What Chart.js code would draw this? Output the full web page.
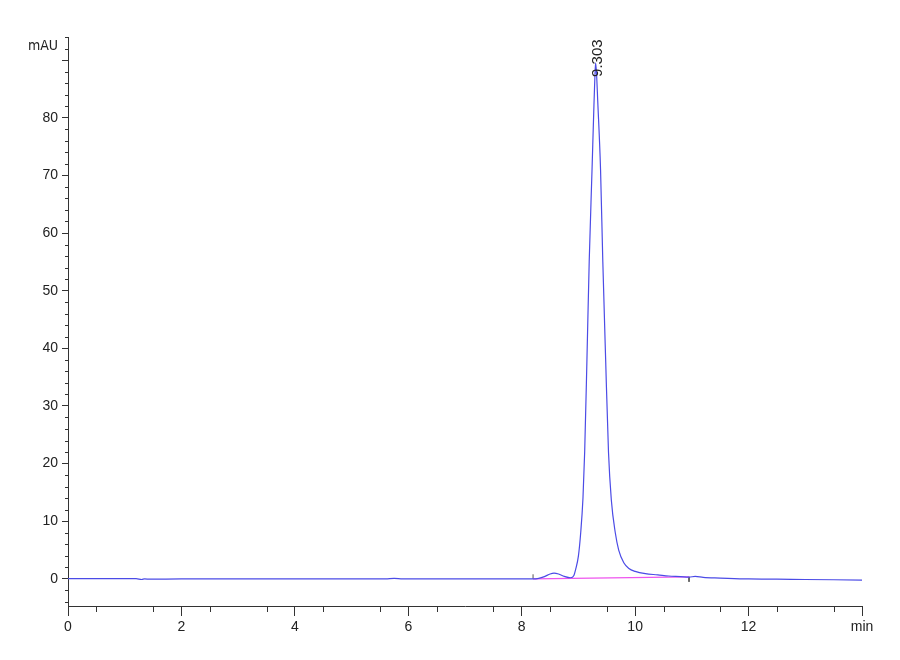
<!DOCTYPE html>
<html>
<head>
<meta charset="utf-8">
<script src="https://cdn.jsdelivr.net/npm/chart.js@4.4.0/dist/chart.umd.min.js"></script>
<style>
  html, body { margin: 0; padding: 0; background: #fff; }
  #wrap { width: 900px; height: 660px; }
</style>
</head>
<body>
<div id="wrap"><canvas id="myChart" width="900" height="660"></canvas></div>
<script>
// retention time (min) and absorbance (mAU)
const times = [0, 0.6, 1.2, 1.3, 1.35, 1.45, 2, 3, 4, 5, 5.6, 5.75, 5.9, 6.5, 7, 7.5, 8.0, 8.2,
  8.3, 8.4, 8.5, 8.57, 8.65, 8.75, 8.86, 8.92, 8.95, 9.0, 9.04, 9.08, 9.11, 9.15, 9.19, 9.24,
  9.27, 9.29, 9.303, 9.32, 9.34, 9.39, 9.43, 9.48, 9.53, 9.58, 9.65, 9.71, 9.8, 9.89, 10.0,
  10.18, 10.4, 10.59, 10.8, 10.95, 11.06, 11.2, 11.5, 12, 12.5, 13, 13.5, 14];
const mau = [0.05, 0.05, 0.05, -0.1, 0.0, -0.05, 0, 0, 0, 0, 0, 0.1, 0, 0, 0, 0, 0, 0,
  0.1, 0.4, 0.85, 1.0, 0.85, 0.45, 0.2, 0.6, 1.6, 4, 8, 14, 22, 38, 55, 71,
  81, 87, 89.5, 87.5, 83, 71, 55, 38, 22, 13.7, 8, 5, 2.8, 1.8, 1.3,
  0.9, 0.7, 0.5, 0.4, 0.3, 0.45, 0.25, 0.15, 0, -0.05, -0.1, -0.15, -0.2];

// integration baseline drawn under the main peak
const baseTimes = [8.2, 10.95];
const baseMau = [0, 0.35];

// x tick labels and y tick labels
const xTicks = [0, 2, 4, 6, 8, 10, 12, 14];
const yTicks = [0, 10, 20, 30, 40, 50, 60, 70, 80, 90];

const peakTime = 9.303;
const peakHeight = 89.5;

const ctx = document.getElementById('myChart');

// minor ticks, unit label and peak annotation
const decor = {
  id: 'decor',
  afterDraw(chart) {
    const c = chart.ctx;
    const xs = chart.scales.x;
    const ys = chart.scales.y;
    const area = chart.chartArea;
    c.save();
    c.strokeStyle = '#333';
    c.lineWidth = 1;
    c.beginPath();
    for (let v = 0.5; v < 14; v += 1) {
      const px = Math.round(xs.getPixelForValue(v)) + 0.5;
      c.moveTo(px, area.bottom);
      c.lineTo(px, area.bottom + 6);
    }
    for (let v = -4; v <= 94; v += 2) {
      if (v % 10 === 0) continue;
      const py = Math.round(ys.getPixelForValue(v)) + 0.5;
      c.moveTo(area.left, py);
      c.lineTo(area.left - 3, py);
    }
    c.stroke();

    c.fillStyle = '#222';
    c.font = '14px "DejaVu Sans Condensed", "Liberation Sans Narrow", sans-serif';
    c.textAlign = 'right';
    c.textBaseline = 'middle';
    c.fillText('mAU', area.left - 10, ys.getPixelForValue(92.3));

    // peak label
    c.translate(xs.getPixelForValue(peakTime) + 2, ys.getPixelForValue(peakHeight) + 14);
    c.rotate(-Math.PI / 2);
    c.textAlign = 'left';
    c.font = '15px "Liberation Sans", Arial, sans-serif';
    c.fillText(peakTime.toFixed(3), 0, 0);
    c.restore();
  }
};

new Chart(ctx, {
  type: 'line',
  data: {
    datasets: [{
      label: 'Signal',
      data: times.map((t, i) => ({ x: t, y: mau[i] })),
      borderColor: '#4b4be6',
      borderWidth: 1.2,
      pointRadius: 0,
      tension: 0.3,
      cubicInterpolationMode: 'monotone'
    }, {
      label: 'Baseline',
      data: baseTimes.map((t, i) => ({ x: t, y: baseMau[i] })),
      borderColor: '#ee55ee',
      borderWidth: 1.2,
      pointRadius: 0
    }, {
      label: 'Start',
      data: [{ x: 8.2, y: 0 }, { x: 8.2, y: 0.8 }],
      borderColor: '#555',
      borderWidth: 1,
      pointRadius: 0
    }, {
      label: 'End',
      data: [{ x: 10.95, y: 0.35 }, { x: 10.95, y: -0.5 }],
      borderColor: '#555',
      borderWidth: 1,
      pointRadius: 0
    }]
  },
  options: {
    responsive: false,
    animation: false,
    devicePixelRatio: 1,
    layout: { padding: { left: 0, right: 38, top: 37, bottom: 0 } },
    plugins: {
      legend: { display: false },
      tooltip: { enabled: false }
    },
    scales: {
      x: {
        type: 'linear',
        min: 0,
        max: 14,
        afterFit: (s) => { s.height = 54; },
        afterBuildTicks: (s) => { s.ticks = xTicks.map(v => ({ value: v })); },
        border: { display: true, color: '#333', width: 1 },
        grid: { drawOnChartArea: false, drawTicks: true, tickLength: 10, color: '#333' },
        ticks: {
          color: '#222',
          padding: 3,
          maxRotation: 0,
          font: { size: 14, family: "'Liberation Sans', Arial, sans-serif" },
          callback: (v) => v === 14 ? 'min' : String(v)
        }
      },
      y: {
        type: 'linear',
        min: -4.7,
        max: 94,
        afterFit: (s) => { s.width = 68; },
        afterBuildTicks: (s) => { s.ticks = yTicks.map(v => ({ value: v })); },
        border: { display: true, color: '#333', width: 1 },
        grid: { drawOnChartArea: false, drawTicks: true, tickLength: 6, color: '#333' },
        ticks: {
          color: '#222',
          padding: 4,
          font: { size: 14, family: "'Liberation Sans', Arial, sans-serif" },
          callback: (v) => v === 90 ? '' : String(v)
        }
      }
    }
  },
  plugins: [decor]
});
</script>
</body>
</html>
